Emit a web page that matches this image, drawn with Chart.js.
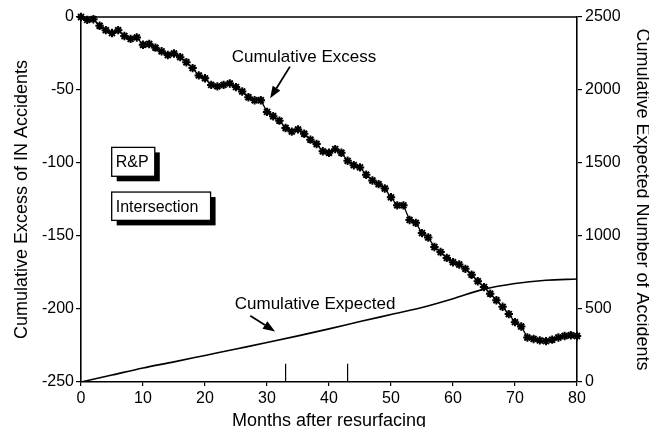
<!DOCTYPE html>
<html>
<head>
<meta charset="utf-8">
<script src="https://cdn.jsdelivr.net/npm/chart.js@4.4.1/dist/chart.umd.min.js"></script>
<style>
  html, body { margin: 0; padding: 0; background: #fff; }
  #wrap { width: 649px; height: 427px; position: relative; }
</style>
</head>
<body>
<div id="wrap"><canvas id="c" width="649" height="427"></canvas></div>
<script>
// ---- data ----
const months = [0,1,2,3,4,5,6,7,8,9,10,11,12,13,14,15,16,17,18,19,20,21,22,23,24,25,26,27,28,29,30,
  31,32,33,34,35,36,37,38,39,40,41,42,43,44,45,46,47,48,49,50,51,52,53,54,55,56,57,58,59,60,
  61,62,63,64,65,66,67,68,69,70,71,72,73,74,75,76,77,78,79,80];
const cumulativeExcess = [0,-2,-1.5,-6,-9,-11,-9,-13,-15,-14,-19,-18.5,-21,-23.5,-26,-25,-27.5,-31,-35,-40,-42,
  -46.5,-47.5,-46.5,-45.5,-48,-51,-55,-57,-57,-65,
  -68,-71,-76,-78.5,-77,-80,-84,-87,-92,-93,-90.5,-93,-98.5,-101.5,-103,-108,-112,-114.5,-117.5,-123.5,
  -129,-129,-139,-141,-148,-151,-157.5,-161,-165,-168,-169.5,-172.5,-176.5,-181,-185,-189.5,-194,-198.5,-203.5,-209,
  -212,-219.5,-220.5,-221.5,-222,-221,-219.5,-218.5,-218,-218.5];
const expectedMonths = [0,5,10,15,20,25,30,35,40,45,50,55,60,65,70,75,80];
const cumulativeExpected = [0,48,96,138,182,226,270,316,364,414,462,510,570,636,675,697,705];
const eventMonths = [33,43];
const eventMarkHeight = 125; // in expected-accidents units
const leftTicks = [0,-50,-100,-150,-200,-250];
const rightTicks = [0,500,1000,1500,2000,2500];
const xTicks = [0,10,20,30,40,50,60,70,80];

// annotation texts (positions in data units: x months, y left-axis units)
const notes = [
  {text:'Cumulative Excess', x:24.3, y:-30.5, tail:[33.7,-34], tip:[30.5,-55.7]},
  {text:'Cumulative Expected', x:24.8, y:-200, tail:[27.3,-204.6], tip:[31.3,-215.4]}
];
const boxes = [
  {text:'R&P', x0:4.95, x1:11.9, y0:-89.3, y1:-109.1},
  {text:'Intersection', x0:4.95, x1:20.9, y0:-119.9, y1:-139.3}
];

const FONT = "'Liberation Sans', Arial, Helvetica, sans-serif";

const excessData = months.map((m,i)=>({x:m, y:cumulativeExcess[i]}));
const expectedData = expectedMonths.map((m,i)=>({x:m, y:cumulativeExpected[i]}));
const eventSets = eventMonths.map(m => ({
  data:[{x:m,y:0},{x:m,y:eventMarkHeight}], yAxisID:'y2',
  borderColor:'#000', borderWidth:1.2, pointRadius:0, showLine:true, fill:false, clip:false
}));

const overlay = {
  id:'overlay',
  afterDatasetsDraw(chart){
    const ctx = chart.ctx, xs = chart.scales.x, ys = chart.scales.y, a = chart.chartArea;
    ctx.save();
    // top frame line
    ctx.strokeStyle = '#000'; ctx.lineWidth = 1.5;
    ctx.beginPath(); ctx.moveTo(a.left, a.top); ctx.lineTo(a.right, a.top); ctx.stroke();
    // notes with arrows
    ctx.fillStyle = '#000';
    ctx.font = '17px ' + FONT;
    ctx.textAlign = 'left'; ctx.textBaseline = 'alphabetic';
    notes.forEach(n => {
      ctx.fillText(n.text, xs.getPixelForValue(n.x), ys.getPixelForValue(n.y));
      const tx = xs.getPixelForValue(n.tail[0]), ty = ys.getPixelForValue(n.tail[1]);
      const px = xs.getPixelForValue(n.tip[0]), py = ys.getPixelForValue(n.tip[1]);
      const ang = Math.atan2(py-ty, px-tx);
      const hl = 12, hw = 4.5;
      const bx = px - hl*Math.cos(ang), by = py - hl*Math.sin(ang);
      ctx.lineWidth = 1.8;
      ctx.beginPath(); ctx.moveTo(tx,ty); ctx.lineTo(bx,by); ctx.stroke();
      ctx.beginPath();
      ctx.moveTo(px,py);
      ctx.lineTo(bx + hw*Math.sin(ang), by - hw*Math.cos(ang));
      ctx.lineTo(bx - hw*Math.sin(ang), by + hw*Math.cos(ang));
      ctx.closePath(); ctx.fill();
    });
    // shadowed boxes
    ctx.font = '16px ' + FONT;
    ctx.textBaseline = 'middle';
    boxes.forEach(b => {
      const x0 = xs.getPixelForValue(b.x0), x1 = xs.getPixelForValue(b.x1);
      const y0 = ys.getPixelForValue(b.y0), y1 = ys.getPixelForValue(b.y1);
      const s = 5;
      ctx.fillStyle = '#000';
      ctx.fillRect(x0 + s, y0 + s, x1 - x0, y1 - y0);
      ctx.fillStyle = '#fff';
      ctx.fillRect(x0, y0, x1 - x0, y1 - y0);
      ctx.strokeStyle = '#000'; ctx.lineWidth = 1.3;
      ctx.strokeRect(x0, y0, x1 - x0, y1 - y0);
      ctx.fillStyle = '#000';
      ctx.fillText(b.text, x0 + 4, (y0 + y1)/2 + 1);
    });
    ctx.restore();
  }
};

const plainNum = v => String(v);

new Chart(document.getElementById('c'), {
  type:'line',
  data:{
    datasets:[
      {label:'Cumulative Excess', data:excessData, yAxisID:'y',
       borderColor:'#000', borderWidth:1.3, pointStyle:'star', pointRadius:4.2,
       pointBorderWidth:2, pointBorderColor:'#000', pointBackgroundColor:'#000',
       fill:false, tension:0, clip:false},
      {label:'Cumulative Expected', data:expectedData, yAxisID:'y2',
       borderColor:'#000', borderWidth:1.6, pointRadius:0, fill:false,
       cubicInterpolationMode:'monotone'},
      ...eventSets
    ]
  },
  options:{
    responsive:false, animation:false, devicePixelRatio:1,
    layout:{padding:{top:17, left:0, right:0, bottom:0}},
    plugins:{legend:{display:false}, tooltip:{enabled:false}},
    scales:{
      x:{type:'linear', min:0, max:80,
        afterBuildTicks(s){ s.ticks = xTicks.map(v=>({value:v})); },
        afterFit(s){ s.height = 45; },
        grid:{drawOnChartArea:false, tickLength:4, color:'#000', lineWidth:1.2},
        border:{color:'#000', width:1.6},
        ticks:{color:'#000', padding:3, font:{family:FONT, size:16}, maxRotation:0, callback:plainNum},
        title:{display:true, text:'Months after resurfacing', color:'#000',
          font:{family:FONT, size:18}, padding:{top:0, bottom:-5}}
      },
      y:{type:'linear', position:'left', min:-250, max:0,
        afterBuildTicks(s){ s.ticks = leftTicks.map(v=>({value:v})); },
        afterFit(s){ s.width = 81; },
        grid:{drawOnChartArea:false, tickLength:5, color:'#000', lineWidth:1.2},
        border:{color:'#000', width:1.6},
        ticks:{color:'#000', padding:2, font:{family:FONT, size:16}, callback:plainNum},
        title:{display:true, text:'Cumulative Excess of IN Accidents', color:'#000',
          font:{family:FONT, size:18}, padding:{top:11, bottom:0}}
      },
      y2:{type:'linear', position:'right', min:0, max:2500,
        afterBuildTicks(s){ s.ticks = rightTicks.map(v=>({value:v})); },
        afterFit(s){ s.width = 72; },
        grid:{drawOnChartArea:false, tickLength:5, color:'#000', lineWidth:1.2},
        border:{color:'#000', width:1.6},
        ticks:{color:'#000', padding:3, font:{family:FONT, size:16}, callback:plainNum},
        title:{display:true, text:'Cumulative Expected Number of Accidents', color:'#000',
          font:{family:FONT, size:18}, padding:{top:-4, bottom:0}}
      }
    }
  },
  plugins:[overlay]
});
</script>
</body>
</html>
